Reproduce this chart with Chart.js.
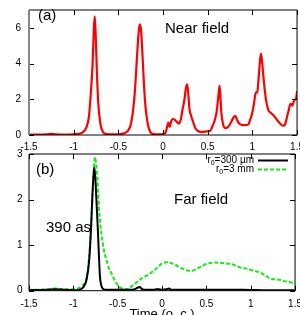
<!DOCTYPE html>
<html>
<head>
<meta charset="utf-8">
<script src="https://cdn.jsdelivr.net/npm/chart.js@4.4.1/dist/chart.umd.min.js"></script>
<style>
  html, body { margin: 0; padding: 0; width: 300px; height: 315px; overflow: hidden; background: #fff; }
  canvas { position: absolute; left: 0; }
  #near { top: -4px; }
  #far { top: 140px; }
</style>
</head>
<body>
<canvas id="near" width="310" height="164" style="width:310px;height:164px"></canvas>
<canvas id="far" width="310" height="182" style="width:310px;height:182px"></canvas>
<script>
// ticks
const xTicks = [-1.5, -1, -0.5, 0, 0.5, 1, 1.5];
const nearTicks = [0, 2, 4, 6];
const farTicks = [0, 1, 2, 3];

// (a) near field
const nearTime = [-1.5, -1.4, -1.3, -1.25, -1.2, -1.1, -1.0, -0.95, -0.9, -0.86, -0.83, -0.81, -0.79, -0.775,
  -0.765, -0.755, -0.74, -0.725, -0.7, -0.67, -0.63, -0.55, -0.45, -0.4, -0.36, -0.33, -0.31, -0.29, -0.27,
  -0.258, -0.245, -0.23, -0.215, -0.2, -0.18, -0.16, -0.14, -0.12, -0.05, 0.0, 0.03, 0.05, 0.06, 0.075, 0.09,
  0.115, 0.14, 0.16, 0.178, 0.2, 0.215, 0.24, 0.255, 0.27, 0.283, 0.296, 0.31, 0.325, 0.344, 0.36, 0.381,
  0.437, 0.49, 0.53, 0.548, 0.57, 0.585, 0.6, 0.611, 0.622, 0.633, 0.643, 0.652, 0.67, 0.696, 0.72, 0.744,
  0.77, 0.79, 0.807, 0.825, 0.844, 0.881, 0.907, 0.93, 0.956, 0.975, 0.993, 1.005, 1.019, 1.03, 1.041, 1.056,
  1.067, 1.078, 1.088, 1.096, 1.105, 1.122, 1.137, 1.152, 1.178, 1.205, 1.233, 1.26, 1.289, 1.326, 1.345,
  1.363, 1.375, 1.389, 1.405, 1.426, 1.448, 1.462, 1.474, 1.49, 1.5];
const nearField = [0.02, 0.02, 0.04, 0.06, 0.03, 0.02, 0.03, 0.06, 0.15, 0.4, 1.0, 2.2, 3.8, 5.8,
  6.65, 5.8, 3.5, 1.8, 0.6, 0.15, 0.05, 0.03, 0.08, 0.2, 0.6, 1.6, 2.8, 4.5, 5.9,
  6.2, 5.8, 4.5, 3.0, 1.8, 0.9, 0.4, 0.15, 0.07, 0.03, 0.05, 0.15, 0.55, 0.69, 0.45, 0.75,
  0.91, 0.81, 0.7, 0.64, 0.9, 1.33, 2.0, 2.6, 2.83, 2.3, 1.46, 1.15, 0.9, 0.64, 0.4, 0.26,
  0.17, 0.2, 0.25, 0.43, 0.7, 0.94, 1.3, 1.79, 2.3, 2.75, 2.1, 1.3, 0.64, 0.39, 0.42, 0.56,
  0.8, 1.0, 1.07, 0.9, 0.69, 0.56, 0.55, 0.56, 0.6, 0.85, 1.12, 1.4, 1.79, 2.2, 2.39, 2.4,
  3.0, 3.69, 4.3, 4.55, 4.3, 3.35, 2.6, 1.98, 1.4, 1.25, 1.12, 0.95, 0.77, 0.56, 0.52,
  0.56, 0.75, 1.05, 1.35, 1.74, 1.65, 1.85, 1.98, 2.05, 2.45];

// (b) far field
const farLabels = ['r_0=300 µm', 'r_0=3 mm'];
const farTime300 = [-1.5, -1.3, -1.2, -1.0, -0.92, -0.88, -0.85, -0.82, -0.8, -0.785, -0.77, -0.763, -0.75,
  -0.735, -0.722, -0.71, -0.7, -0.685, -0.674, -0.64, -0.5, -0.35, -0.3, -0.27, -0.25, -0.23, -0.2, -0.1,
  -0.05, 0.0, 0.05, 0.08, 0.1, 0.3, 0.6, 0.9, 1.2, 1.5];
const far300 = [0.01, 0.02, 0.03, 0.01, 0.03, 0.1, 0.25, 0.7, 1.4, 2.1, 2.6, 2.7, 2.4,
  1.8, 1.27, 0.7, 0.31, 0.12, 0.06, 0.02, 0.02, 0.02, 0.04, 0.07, 0.08, 0.04, 0.02, 0.02,
  0.04, 0.02, 0.03, 0.05, 0.02, 0.02, 0.02, 0.02, 0.01, 0.01];
const farTime3 = [-1.5, -1.3, -1.2, -1.1, -1.0, -0.95, -0.91, -0.86, -0.84, -0.822, -0.805, -0.793, -0.784,
  -0.774, -0.762, -0.755, -0.745, -0.735, -0.726, -0.711, -0.698, -0.685, -0.67, -0.656, -0.63, -0.6, -0.57,
  -0.544, -0.515, -0.489, -0.45, -0.41, -0.378, -0.34, -0.3, -0.265, -0.23, -0.193, -0.156, -0.12, -0.081,
  -0.04, -0.007, 0.03, 0.067, 0.11, 0.159, 0.2, 0.252, 0.3, 0.344, 0.39, 0.437, 0.49, 0.548, 0.6, 0.659,
  0.72, 0.77, 0.83, 0.881, 0.94, 0.993, 1.05, 1.104, 1.16, 1.215, 1.27, 1.326, 1.38, 1.437, 1.5];
const far3 = [0.02, 0.03, 0.05, 0.03, 0.03, 0.05, 0.1, 0.22, 0.4, 0.76, 1.2, 1.64, 2.05,
  2.46, 2.85, 2.93, 2.8, 2.6, 2.39, 1.83, 1.5, 1.27, 1.07, 0.9, 0.7, 0.5, 0.38,
  0.27, 0.17, 0.09, 0.05, 0.04, 0.04, 0.1, 0.16, 0.22, 0.27, 0.31, 0.35, 0.4, 0.46,
  0.53, 0.59, 0.62, 0.63, 0.6, 0.56, 0.51, 0.47, 0.44, 0.44, 0.48, 0.53, 0.58, 0.61, 0.62, 0.61,
  0.6, 0.59, 0.55, 0.51, 0.49, 0.46, 0.43, 0.4, 0.34, 0.27, 0.25, 0.24, 0.21, 0.19, 0.15];

const FONT = '"Liberation Sans", Arial, Helvetica, sans-serif';
const toXY = (xs, ys) => xs.map((x, i) => ({ x: x, y: ys[i] }));

// gnuplot style frame with inward ticks
const framePlugin = {
  id: 'frame',
  afterDatasetsDraw(chart, args, opts) {
    const { ctx, chartArea: a, scales: { x, y } } = chart;
    const len = 5;
    ctx.save();
    ctx.lineWidth = 1;
    ctx.strokeStyle = '#000';
    ctx.beginPath();
    xTicks.forEach(v => {
      const px = Math.round(x.getPixelForValue(v)) + 0.5;
      ctx.moveTo(px, a.bottom); ctx.lineTo(px, a.bottom - len);
      ctx.moveTo(px, a.top); ctx.lineTo(px, a.top + len);
    });
    opts.yTicks.forEach(v => {
      const py = Math.round(y.getPixelForValue(v)) + 0.5;
      ctx.moveTo(a.left, py); ctx.lineTo(a.left + len, py);
      ctx.moveTo(a.right, py); ctx.lineTo(a.right - len, py);
    });
    ctx.stroke();
    // top, right, bottom
    ctx.beginPath();
    ctx.moveTo(a.left, a.top); ctx.lineTo(a.right, a.top);
    ctx.lineTo(a.right, a.bottom); ctx.lineTo(a.left, a.bottom);
    ctx.stroke();
    ctx.strokeStyle = opts.leftColor;
    ctx.lineWidth = opts.leftWidth;
    ctx.beginPath();
    ctx.moveTo(a.left, a.top); ctx.lineTo(a.left, a.bottom);
    ctx.stroke();
    ctx.restore();
  }
};

const notesPlugin = {
  id: 'notes',
  afterDraw(chart, args, opts) {
    const ctx = chart.ctx;
    ctx.save();
    ctx.fillStyle = '#000';
    ctx.textBaseline = 'middle';
    ctx.textAlign = 'left';
    ctx.font = '15px ' + FONT;
    opts.items.forEach(n => ctx.fillText(n.text, n.x, n.y));
    ctx.restore();
  }
};

// legend with subscripted r0
const keyPlugin = {
  id: 'key',
  afterDraw(chart, args, opts) {
    if (!opts.show) return;
    const ctx = chart.ctx;
    ctx.save();
    ctx.textBaseline = 'middle';
    ctx.fillStyle = '#000';
    chart.data.datasets.forEach((ds, i) => {
      const y = opts.y + i * 9;
      const [pre, rest] = ds.label.split('_');
      const sub = rest.charAt(0), tail = rest.slice(1);
      ctx.font = '10px ' + FONT;
      const w1 = ctx.measureText(pre).width, w3 = ctx.measureText(tail).width;
      ctx.font = '7px ' + FONT;
      const w2 = ctx.measureText(sub).width;
      let x = opts.textRight - (w1 + w2 + w3);
      ctx.font = '10px ' + FONT;
      ctx.fillText(pre, x, y);
      ctx.font = '7px ' + FONT;
      ctx.fillText(sub, x + w1, y + 3);
      ctx.font = '10px ' + FONT;
      ctx.fillText(tail, x + w1 + w2, y);
      ctx.strokeStyle = ds.borderColor;
      ctx.lineWidth = ds.borderWidth;
      ctx.setLineDash(ds.borderDash || []);
      ctx.beginPath();
      ctx.moveTo(opts.lineX0, y); ctx.lineTo(opts.lineX1, y);
      ctx.stroke();
      ctx.setLineDash([]);
    });
    ctx.restore();
  }
};

function axes(yMax, yTicks, yPad, xPad, xHeight, title) {
  return {
    x: {
      type: 'linear', min: -1.5, max: 1.5,
      afterBuildTicks: s => { s.ticks = xTicks.map(v => ({ value: v })); },
      afterFit: s => { s.height = xHeight; },
      grid: { display: false, drawTicks: false },
      border: { display: false },
      ticks: { padding: xPad, color: '#000', autoSkip: false, maxRotation: 0,
        font: { family: FONT, size: 10 }, callback: v => String(v) },
      title: title ? { display: true, text: title, color: '#000', padding: 0,
        font: { family: FONT, size: 13 } } : { display: false }
    },
    y: {
      type: 'linear', min: 0, max: yMax,
      afterBuildTicks: s => { s.ticks = yTicks.map(v => ({ value: v })); },
      afterFit: s => { s.width = 29; },
      grid: { display: false, drawTicks: false },
      border: { display: false },
      ticks: { padding: yPad, color: '#000', font: { family: FONT, size: 10 } }
    }
  };
}

Chart.defaults.font.family = FONT;

new Chart(document.getElementById('near'), {
  type: 'line',
  data: {
    datasets: [{
      label: 'near',
      data: toXY(nearTime, nearField),
      borderColor: '#ff0000', borderWidth: 2.2, pointRadius: 0,
      cubicInterpolationMode: 'monotone'
    }]
  },
  options: {
    responsive: false, animation: false, devicePixelRatio: 1,
    layout: { padding: { top: 3, right: 9.5, left: 0, bottom: 0 } },
    scales: axes(7, nearTicks, 8, 6, 25, null),
    plugins: {
      legend: { display: false }, tooltip: { enabled: false },
      frame: { yTicks: nearTicks, leftColor: '#888', leftWidth: 2 },
      notes: { items: [{ text: '(a)', x: 38, y: 20 }, { text: 'Near field', x: 165, y: 33 }] },
      key: { show: false }
    }
  },
  plugins: [framePlugin, notesPlugin, keyPlugin]
});

new Chart(document.getElementById('far'), {
  type: 'line',
  data: {
    datasets: [{
      label: farLabels[0],
      data: toXY(farTime300, far300),
      borderColor: '#000000', borderWidth: 2, pointRadius: 0,
      cubicInterpolationMode: 'monotone'
    }, {
      label: farLabels[1],
      data: toXY(farTime3, far3),
      borderColor: '#11ee11', borderWidth: 2, borderDash: [4, 2], pointRadius: 0,
      cubicInterpolationMode: 'monotone'
    }]
  },
  options: {
    responsive: false, animation: false, devicePixelRatio: 1,
    layout: { padding: { top: 14, right: 9.5, left: 0, bottom: 0 } },
    scales: axes(3, farTicks, 6.5, 8, 31.3, 'Time (o. c.)'),
    plugins: {
      legend: { display: false }, tooltip: { enabled: false },
      frame: { yTicks: farTicks, leftColor: '#000', leftWidth: 1 },
      notes: { items: [{ text: '(b)', x: 36, y: 30 }, { text: 'Far field', x: 174, y: 60 },
        { text: '390 as', x: 46, y: 88 }] },
      key: { show: true, y: 20.5, textRight: 254, lineX0: 258, lineX1: 288 }
    }
  },
  plugins: [framePlugin, notesPlugin, keyPlugin]
});
</script>
</body>
</html>
